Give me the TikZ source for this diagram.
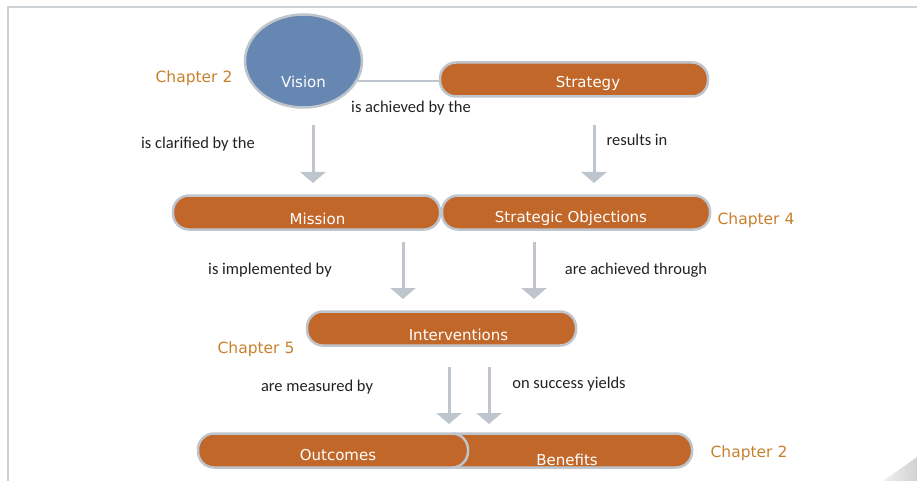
\documentclass[tikz,border=0pt]{standalone}
\usepackage{fontspec}
\setmainfont{DejaVu Sans}
\newfontfamily\linkfont{Carlito}
\usetikzlibrary{arrows.meta, shapes.geometric}

\definecolor{boxfill}{HTML}{C1672A}
\definecolor{rimgray}{HTML}{BEC5CC}
\definecolor{visionblue}{HTML}{6787B3}
\definecolor{chaporange}{HTML}{C8802C}
\definecolor{linkgray}{HTML}{222222}
\definecolor{framegray}{HTML}{CDD2D6}

\begin{document}
\begin{tikzpicture}[x=1pt,y=-1pt,
		pillbox/.style={rectangle,rounded corners=16pt,draw=rimgray,line width=2.5pt,fill=boxfill,minimum height=34pt,inner sep=0pt},
		ovalvertex/.style={ellipse,draw=rimgray,line width=2.5pt,fill=visionblue,minimum width=117pt,minimum height=93pt,inner sep=0pt},
		boxtext/.style={text=white,font=\fontsize{15}{17}\selectfont,inner sep=0pt},
		chaplabel/.style={text=chaporange,font=\fontsize{15.5}{17}\selectfont,inner sep=0pt},
		linklabel/.style={text=linkgray,font=\linkfont\fontsize{16.5}{18}\selectfont,inner sep=0pt},
		flowarrow/.style={draw=rimgray,line width=3pt,-{Triangle[width=25pt,length=11pt]}}
		]
		\useasboundingbox (0,0) rectangle (917,481);
		% frame and page corner
		\draw[framegray,line width=1.5pt] (917,7) -- (8,7) -- (8,481);
		\shade[left color=black!6, right color=black!18] (883,481) -- (917,457) -- (917,481) -- cycle;
		
		\node[ovalvertex, label={[boxtext,yshift=-21pt]center:Vision}](V) at (303.5,61){};
		\node[pillbox, minimum width=268pt, label={[boxtext,xshift=14pt,yshift=-3.5pt]center:Strategy}](S) at (574,79.5){};
		\draw[rimgray,line width=2.5pt] (V.-20) -- (V.-20 -| S.west);
		
		\node[pillbox, minimum width=267pt, label={[boxtext,xshift=11pt,yshift=-6pt]center:Mission}](M) at (306.5,212.5){};
		\node[pillbox, minimum width=268pt, label={[boxtext,xshift=-5pt,yshift=-6pt]center:Strategic Objections}](O) at (576,212.5){};
		\node[pillbox, minimum width=269pt, label={[boxtext,xshift=17pt,yshift=-6.5pt]center:Interventions}](I) at (441.5,328.5){};
		\node[pillbox, minimum width=252pt, label={[boxtext,xshift=1pt,yshift=-9.5pt]center:Benefits}](B) at (566,450.5){};
		\node[pillbox, minimum width=270pt, label={[boxtext,xshift=5pt,yshift=-4.5pt]center:Outcomes}](U) at (333,450.5){};
		
		\node[chaplabel](C1) at (194,78){Chapter 2};
		\node[chaplabel](C2) at (756,220){Chapter 4};
		\node[chaplabel](C3) at (256,349){Chapter 5};
		\node[chaplabel](C4) at (749,453){Chapter 2};
		
		\node[linklabel](L1) at (411,108){is achieved by the};
		\node[linklabel](L2) at (198,144){is clarified by the};
		\node[linklabel](L3) at (637,140){results in};
		\node[linklabel](L4) at (270,270){is implemented by};
		\node[linklabel](L5) at (636,270){are achieved through};
		\node[linklabel](L6) at (317,387){are measured by};
		\node[linklabel](L7) at (569,384){on success yields};
		
		\foreach \n/\x/\ya/\yb in {1/313/125/183, 2/594/125/183, 3/403/242/299,
			4/534/242/299, 5/449/367/424, 6/489/367/424}{
			\coordinate (t\n) at (\x,\ya);
			\coordinate (h\n) at (\x,\yb);
			\draw[flowarrow] (t\n) -- (h\n);
		}
	\end{tikzpicture}
\end{document}
